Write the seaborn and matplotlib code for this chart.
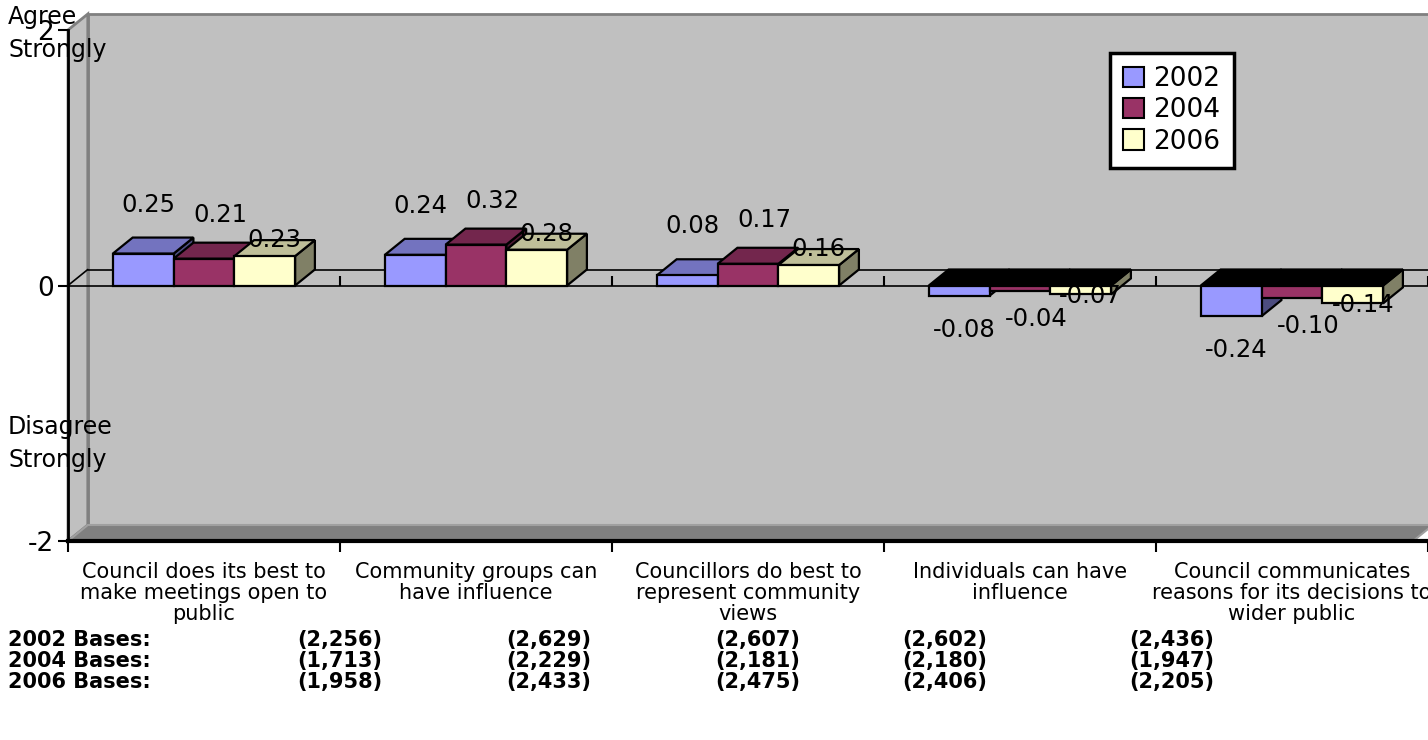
import numpy as np
import pandas as pd
import matplotlib
matplotlib.use("Agg")
import matplotlib.pyplot as plt
from matplotlib.patches import Polygon, Patch
import seaborn as sns

# ─── data ─────────────────────────────────────────────────────────────────────
CATEGORIES = [
    "Council does its best to\nmake meetings open to\npublic",
    "Community groups can\nhave influence",
    "Councillors do best to\nrepresent community\nviews",
    "Individuals can have\ninfluence",
    "Council communicates\nreasons for its decisions to\nwider public",
]
YEARS = ["2002", "2004", "2006"]
VALUES_2002 = [0.25, 0.24, 0.08, -0.08, -0.24]
VALUES_2004 = [0.21, 0.32, 0.17, -0.04, -0.10]
VALUES_2006 = [0.23, 0.28, 0.16, -0.07, -0.14]
BASES_2002 = ["(2,256)", "(2,629)", "(2,607)", "(2,602)", "(2,436)"]
BASES_2004 = ["(1,713)", "(2,229)", "(2,181)", "(2,180)", "(1,947)"]
BASES_2006 = ["(1,958)", "(2,433)", "(2,475)", "(2,406)", "(2,205)"]
BASE_LABELS = ["2002 Bases:", "2004 Bases:", "2006 Bases:"]
YTICKS = [-2, 0, 2]

# ─── style ────────────────────────────────────────────────────────────────────
W, H, DPI = 1428, 740, 100
FRONT = ["#9999FF", "#993366", "#FFFFCC"]
WALL, FLOOR, EDGE_GRAY = "#C0C0C0", "#808080", "#808080"
DEPTH_PX = (20, 16)
LABEL_DX = [5, 16, 10]
LABEL_DY_POS = [49, 44, 16]
LABEL_DY_NEG = [34, 28, 2]
BASE_X = [340, 549, 758, 945, 1172]
BASE_Y = [640, 661, 682]


def shade(color, f):
    r, g, b = matplotlib.colors.to_rgb(color)
    return (r * f, g * f, b * f)


def px(x, y):
    return x / W, 1 - y / H


sns.set_style("white")
plt.rcParams["font.family"] = ["DejaVu Sans"]
plt.rcParams["axes.unicode_minus"] = False
for key in ("text.color", "axes.labelcolor", "xtick.color", "ytick.color"):
    plt.rcParams[key] = "black"

fig = plt.figure(figsize=(W / DPI, H / DPI), dpi=DPI)
ax = fig.add_axes([68 / W, (H - 541) / H, (W - 68) / W, 511 / H])

df = pd.DataFrame({
    "category": CATEGORIES * 3,
    "year": np.repeat(YEARS, len(CATEGORIES)),
    "value": VALUES_2002 + VALUES_2004 + VALUES_2006,
})
sns.barplot(data=df, x="category", y="value", hue="year", order=CATEGORIES,
            hue_order=YEARS, palette=FRONT, saturation=1, width=0.67,
            errorbar=None, edgecolor="black", linewidth=1.6, legend=False, ax=ax)

n = len(CATEGORIES)
ax.set_xlim(-0.5, -0.5 + (W - 68) / 275)
ax.set_ylim(YTICKS[0], YTICKS[-1])
ax.set_facecolor("none")
ax.set_xlabel("")
ax.set_ylabel("")

# depth of the fake 3D, pixel offset -> data units
inv = ax.transData.inverted()
p0 = inv.transform((0, 0))
p1 = inv.transform(DEPTH_PX)
ddx, ddy = p1 - p0
tick_len = (inv.transform((0, 0)) - inv.transform((0, 10)))[1]

xmin, xmax = ax.get_xlim()
ymin, ymax = ax.get_ylim()

# walls and floor
back = Polygon([(xmin + ddx, ymin + ddy), (xmax + ddx, ymin + ddy),
                (xmax + ddx, ymax + ddy), (xmin + ddx, ymax + ddy)],
               closed=True, fc=WALL, ec=EDGE_GRAY, lw=2, clip_on=False, zorder=0)
side = Polygon([(xmin, ymin), (xmin, ymax), (xmin + ddx, ymax + ddy), (xmin + ddx, ymin + ddy)],
               closed=True, fc=WALL, ec=EDGE_GRAY, lw=2, clip_on=False, zorder=0.1)
floor = Polygon([(xmin, ymin), (xmax, ymin), (xmax + ddx, ymin + ddy), (xmin + ddx, ymin + ddy)],
                closed=True, fc=FLOOR, ec="#A0A0A0", lw=1.5, clip_on=False, zorder=0.2)
for p in (back, side, floor):
    ax.add_patch(p)

# zero plane
ax.plot([xmin + ddx, xmax + ddx], [ddy, ddy], color="black", lw=1.2, zorder=1)
ax.plot([xmin, xmin + ddx], [0, ddy], color="black", lw=1.2, zorder=1, clip_on=False)
ax.axhline(0, color="black", lw=1.2, zorder=1)
ax.vlines(np.arange(1, n + 1) - 0.5, 0, -tick_len, color="black", lw=1.5, zorder=1)

# 3D faces for every bar, drawn left to right
bars = []
for j, cont in enumerate(ax.containers):
    for p in cont.patches:
        bars.append((p.get_x(), j, p))
bars.sort(key=lambda t: t[0])

for k, (_, j, p) in enumerate(bars):
    x0 = p.get_x()
    x1 = x0 + p.get_width()
    v = p.get_y() + p.get_height()
    top_y, bot_y = max(v, 0), min(v, 0)
    z = 3 + 3 * k
    side_face = Polygon([(x1, bot_y), (x1, top_y), (x1 + ddx, top_y + ddy), (x1 + ddx, bot_y + ddy)],
                        closed=True, fc=shade(FRONT[j], 0.5), ec="black", lw=1.6, zorder=z)
    top_face = Polygon([(x0, top_y), (x1, top_y), (x1 + ddx, top_y + ddy), (x0 + ddx, top_y + ddy)],
                       closed=True, fc=shade(FRONT[j], 0.75) if v >= 0 else "black",
                       ec="black", lw=1.6, zorder=z + 1)
    ax.add_patch(side_face)
    ax.add_patch(top_face)
    p.set_zorder(z + 2)
    off = LABEL_DY_POS[j] if v >= 0 else -LABEL_DY_NEG[j]
    ax.annotate(f"{v:.2f}", xy=(x0 + p.get_width() / 2, v), xytext=(LABEL_DX[j], off),
                textcoords="offset pixels", ha="center", va="center",
                fontsize=17.5, zorder=200)

# axes lines and ticks
for s in ("top", "right"):
    ax.spines[s].set_visible(False)
ax.spines["left"].set_linewidth(2)
ax.spines["left"].set_color("black")
ax.spines["bottom"].set_linewidth(3)
ax.spines["bottom"].set_color("black")
ax.spines["left"].set_zorder(150)
ax.spines["bottom"].set_zorder(150)

ax.set_yticks(YTICKS)
ax.set_yticklabels([str(t) for t in YTICKS])
ax.tick_params(axis="y", length=7, width=1.5, labelsize=19, pad=3, left=True)
ax.set_xticks(np.arange(n + 1) - 0.5, minor=True)
ax.tick_params(axis="x", which="major", length=0, labelsize=15, pad=15)
ax.tick_params(axis="x", which="minor", length=8, width=1.5, bottom=True)
for lbl in ax.get_xticklabels():
    lbl.set_linespacing(1.08)

# side labels
fig.text(*px(8, 17), "Agree", fontsize=17, va="center", ha="left")
fig.text(*px(8, 50), "Strongly", fontsize=17, va="center", ha="left")
fig.text(*px(8, 427), "Disagree", fontsize=17, va="center", ha="left")
fig.text(*px(8, 460), "Strongly", fontsize=17, va="center", ha="left")

# bases table
for label, row, y in zip(BASE_LABELS, [BASES_2002, BASES_2004, BASES_2006], BASE_Y):
    fig.text(*px(8, y), label, fontsize=15, fontweight="bold", va="center", ha="left")
    for x, val in zip(BASE_X, row):
        fig.text(*px(x, y), val, fontsize=15, fontweight="bold", va="center", ha="center")

# legend
handles = [Patch(facecolor=c, edgecolor="black", linewidth=1.5) for c in FRONT]
leg = fig.legend(handles, YEARS, loc="upper left", bbox_to_anchor=px(1110, 53),
                 fontsize=19, frameon=True, fancybox=False, framealpha=1,
                 edgecolor="black", handlelength=0.8, handleheight=0.8,
                 handletextpad=0.35, labelspacing=0.2, borderpad=0.5, borderaxespad=0)
leg.get_frame().set_linewidth(2.5)

fig.savefig("out.png", dpi=DPI)
